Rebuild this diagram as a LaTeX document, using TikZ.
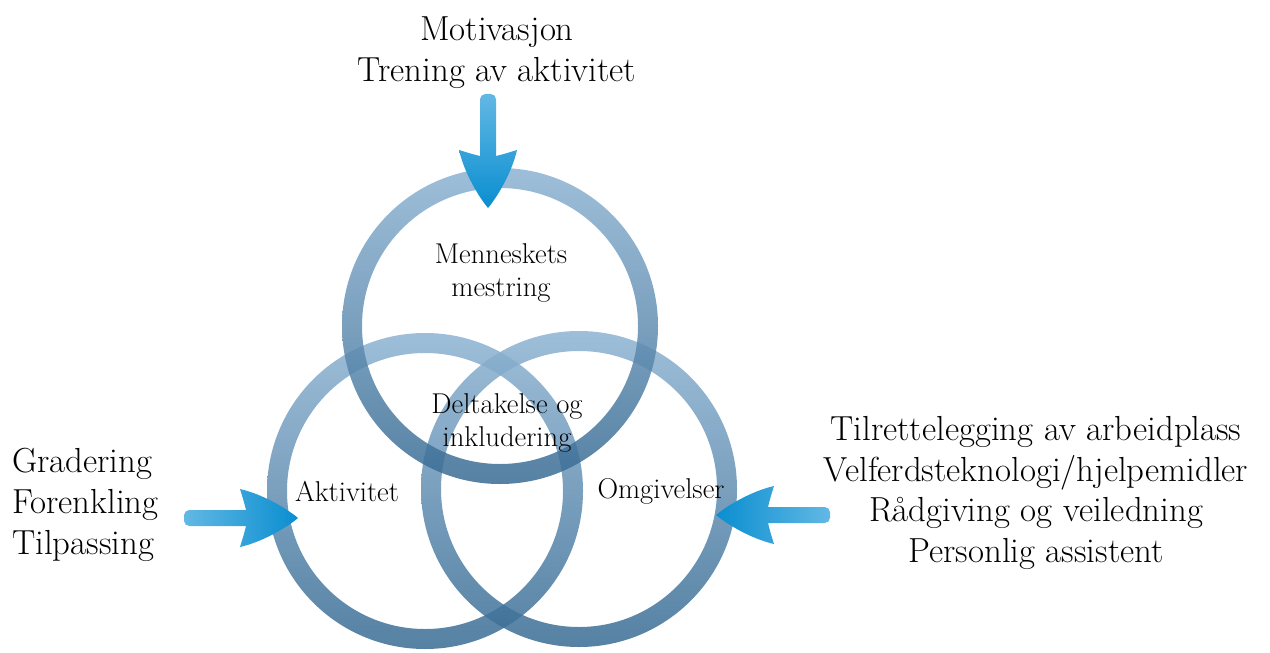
\documentclass[tikz,border=0pt]{standalone}
\usepackage{tikz}
\definecolor{ringtop}{HTML}{8DB3D2}
\definecolor{ringbot}{HTML}{386B93}
\definecolor{arrowtail}{HTML}{62B8E4}
\definecolor{arrowhead}{HTML}{0A8ED0}
\newcommand{\arrowpath}{(0,0) .. controls (-12,10) and (-36,24) .. (-58,29) .. controls (-54,16) .. (-52,8) [rounded corners=3] -- (-114,8) -- (-114,-8) [sharp corners] -- (-52,-8) .. controls (-54,-16) .. (-58,-29) .. controls (-36,-24) and (-12,-10) .. (0,0) -- cycle}
\begin{document}
\begin{tikzpicture}[x=0.02cm,y=-0.02cm,
	ring/.style={even odd rule,top color=ringtop,bottom color=ringbot,opacity=0.85},
	bigtext/.style={font=\fontsize{19.8}{23.3}\selectfont,text=black},
	smalltext/.style={align=center,font=\fontsize{16.3}{18.8}\selectfont,text=black}]
	\useasboundingbox (0,0) rectangle (1270,652);
	\coordinate (mtop) at (500,326);
	\coordinate (mleft) at (425,491);
	\coordinate (mright) at (579,489);
	\shade[ring] (mleft) circle[radius=158] (mleft) circle[radius=138];
	\shade[ring] (mright) circle[radius=158] (mright) circle[radius=138];
	\shade[ring] (mtop) circle[radius=158] (mtop) circle[radius=138];
	\node[smalltext] (mestring) at (501,273) {Menneskets\\mestring};
	\node[smalltext] (deltakelse) at (507,423) {Deltakelse og\\inkludering};
	\node[smalltext] (aktivitet) at (347,491) {Aktivitet};
	\node[smalltext] (omgivelser) at (661,491) {Omgivelser};
	\node[bigtext,align=center] (motivasjon) at (497,53) {Motivasjon\\Trening av aktivitet};
	\node[bigtext,align=left,anchor=west] (gradering) at (6,505) {Gradering\\Forenkling\\Tilpassing};
	\node[bigtext,align=center] (tilrettelegging) at (1036,493) {Tilrettelegging av arbeidplass\\Velferdsteknologi/hjelpemidler\\R\aa dgiving og veiledning\\Personlig assistent};
	\coordinate (toptip) at (488,208);
	\coordinate (lefttip) at (298,518);
	\coordinate (righttip) at (716,515);
	\begin{scope}[shift={(toptip)},rotate=-90]
		\shade[top color=arrowtail,bottom color=arrowhead] \arrowpath;
	\end{scope}
	\begin{scope}[shift={(lefttip)}]
		\shade[left color=arrowtail,right color=arrowhead] \arrowpath;
	\end{scope}
	\begin{scope}[shift={(righttip)},rotate=180]
		\shade[left color=arrowhead,right color=arrowtail] \arrowpath;
	\end{scope}
\end{tikzpicture}
\end{document}
